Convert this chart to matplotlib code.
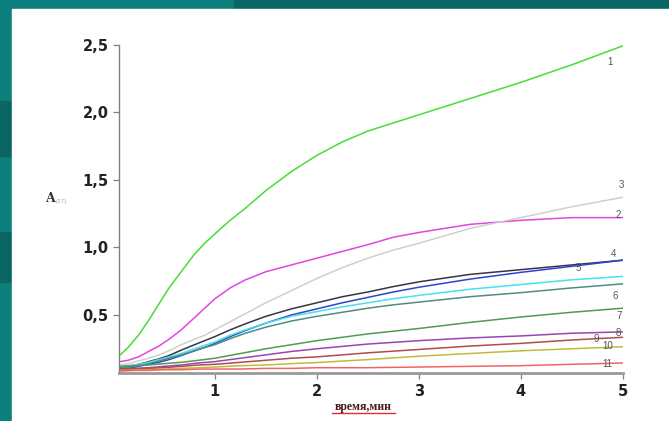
"""Absorbance kinetics, curves 1-11, recreated from a slide."""

import matplotlib

matplotlib.use("Agg")

import matplotlib.pyplot as plt
from matplotlib.lines import Line2D
from matplotlib.patches import Rectangle

# time, min (fine grid for the fast curves 1-6)
time_fast = [0.07, 0.15, 0.25, 0.35, 0.45, 0.55, 0.67, 0.8, 0.9, 1.0, 1.15,
             1.3, 1.5, 1.75, 2.0, 2.25, 2.5, 2.75, 3.0, 3.5, 4.0, 4.5, 5.0]

curve_1 = [0.205, 0.26, 0.35, 0.46, 0.58, 0.70, 0.82, 0.95, 1.03, 1.10, 1.20,
           1.29, 1.42, 1.56, 1.68, 1.78, 1.86, 1.92, 1.98, 2.10, 2.22, 2.35, 2.49]
curve_2 = [0.155, 0.165, 0.19, 0.23, 0.27, 0.32, 0.39, 0.48, 0.55, 0.62, 0.70,
           0.76, 0.82, 0.87, 0.92, 0.97, 1.02, 1.075, 1.11, 1.17, 1.20, 1.22, 1.22]
curve_3 = [0.13, 0.14, 0.16, 0.18, 0.205, 0.235, 0.28, 0.32, 0.35, 0.39, 0.45,
           0.51, 0.59, 0.68, 0.77, 0.85, 0.92, 0.98, 1.03, 1.14, 1.22, 1.30, 1.37]
curve_4 = [0.11, 0.12, 0.135, 0.155, 0.175, 0.20, 0.24, 0.28, 0.31, 0.34, 0.39,
           0.435, 0.49, 0.545, 0.59, 0.635, 0.67, 0.71, 0.745, 0.80, 0.835, 0.87, 0.905]
curve_5 = [0.10, 0.105, 0.12, 0.135, 0.15, 0.17, 0.20, 0.235, 0.26, 0.29, 0.34,
           0.385, 0.44, 0.50, 0.545, 0.59, 0.63, 0.67, 0.705, 0.765, 0.815, 0.86, 0.905]
curve_5b = [0.12, 0.125, 0.135, 0.15, 0.17, 0.19, 0.215, 0.25, 0.275, 0.30, 0.35,
            0.39, 0.44, 0.49, 0.525, 0.56, 0.59, 0.62, 0.645, 0.69, 0.725, 0.76, 0.785]
curve_6 = [0.11, 0.115, 0.125, 0.14, 0.16, 0.18, 0.205, 0.235, 0.26, 0.28, 0.325,
           0.365, 0.41, 0.455, 0.49, 0.52, 0.55, 0.575, 0.595, 0.635, 0.665, 0.70, 0.73]

# coarser grid for the slow curves 7-11
time_slow = [0.07, 0.2, 0.35, 0.5, 0.67, 0.84, 1.0, 1.25, 1.5, 1.75,
             2.0, 2.5, 3.0, 3.5, 4.0, 4.5, 5.0]

curve_7 = [0.12, 0.125, 0.13, 0.14, 0.15, 0.165, 0.18, 0.215, 0.25, 0.28,
           0.31, 0.36, 0.40, 0.445, 0.485, 0.52, 0.55]
curve_8 = [0.10, 0.105, 0.11, 0.12, 0.13, 0.145, 0.155, 0.18, 0.205, 0.23,
           0.25, 0.285, 0.31, 0.33, 0.345, 0.365, 0.375]
curve_9 = [0.10, 0.10, 0.105, 0.11, 0.12, 0.13, 0.135, 0.15, 0.165, 0.18,
           0.19, 0.22, 0.245, 0.27, 0.29, 0.315, 0.335]
curve_10 = [0.09, 0.09, 0.095, 0.10, 0.105, 0.11, 0.115, 0.125, 0.13, 0.14,
            0.148, 0.17, 0.195, 0.215, 0.235, 0.25, 0.265]
curve_11 = [0.085, 0.09, 0.09, 0.095, 0.095, 0.10, 0.10, 0.10, 0.105, 0.105,
            0.11, 0.11, 0.115, 0.12, 0.125, 0.135, 0.145]

curves = [
    (time_fast, curve_1, "#45de35"),
    (time_fast, curve_2, "#e245e2"),
    (time_fast, curve_3, "#cfcfcf"),
    (time_fast, curve_4, "#35354a"),
    (time_fast, curve_5, "#3043cf"),
    (time_fast, curve_5b, "#45e3ea"),
    (time_fast, curve_6, "#4f8c84"),
    (time_slow, curve_7, "#4f9c4f"),
    (time_slow, curve_8, "#9a45b2"),
    (time_slow, curve_9, "#b04c4c"),
    (time_slow, curve_10, "#bcbc3a"),
    (time_slow, curve_11, "#f26464"),
]

# curve number labels
label_text = ["1", "3", "2", "4", "5", "6", "7", "8", "9", "10", "11"]
label_x = [4.88, 4.99, 4.96, 4.91, 4.56, 4.93, 4.97, 4.96, 4.74, 4.85, 4.85]
label_y = [2.37, 1.46, 1.24, 0.95, 0.85, 0.64, 0.49, 0.37, 0.32, 0.27, 0.14]

x_ticks = [1, 2, 3, 4, 5]
y_ticks = [0.5, 1.0, 1.5, 2.0, 2.5]
y_tick_labels = ["0,5", "1,0", "1,5", "2,0", "2,5"]

teal = "#0d807d"

fig = plt.figure(figsize=(6.69, 4.21), dpi=100)
fig.patch.set_facecolor(teal)
# slide frame: darker top band and a few darker patches on the left edge
fig.add_artist(Rectangle((0.35, 0.978), 0.65, 0.022, transform=fig.transFigure,
                         color="#0b6565", zorder=0))
fig.add_artist(Rectangle((0, 0.63), 0.018, 0.13, transform=fig.transFigure,
                         color="#0b6663", zorder=0))
fig.add_artist(Rectangle((0, 0.33), 0.018, 0.12, transform=fig.transFigure,
                         color="#0b6663", zorder=0))
fig.add_artist(Rectangle((12 / 669, 0), 1, 1 - 9 / 421, transform=fig.transFigure,
                         color="white", zorder=0))

ax = fig.add_axes([0.1784, 0.1147, 0.7524, 0.7795])
ax.set_facecolor("none")

for t, values, color in curves:
    ax.plot(t, values, color=color, lw=1.1)

for text, x, y in zip(label_text, label_x, label_y):
    ax.text(x, y, text, fontsize=7, color="#555555", ha="center", va="center",
            family="Liberation Sans")

ax.set_xlim(0.063, 5.0)
ax.set_ylim(0.073, 2.5)
ax.set_xticks(x_ticks)
ax.set_xticklabels([str(t) for t in x_ticks])
ax.set_yticks(y_ticks)
ax.set_yticklabels(y_tick_labels)

for side in ("top", "right"):
    ax.spines[side].set_visible(False)
ax.spines["left"].set_color("#808080")
ax.spines["left"].set_linewidth(1.0)
ax.spines["bottom"].set_color("#999999")
ax.spines["bottom"].set_linewidth(2.0)
ax.tick_params(axis="both", direction="out", length=4.3, width=0.9,
               color="#808080", pad=3.5)
for lab in ax.get_xticklabels() + ax.get_yticklabels():
    lab.set_fontfamily("DejaVu Sans")
    lab.set_fontweight("bold")
    lab.set_fontsize(10.5)
    lab.set_color("#222222")

# y axis label: A with a small subscript
fig.text(45 / 669, 1 - 198 / 421, "A", fontsize=9, fontweight="bold",
         family="DejaVu Serif", color="#333333", va="center")
fig.text(56 / 669, 1 - 201 / 421, "(17)", fontsize=4.5, color="#aaaaaa",
         va="center", family="Liberation Sans")

# x axis label, with the red spell-check underline of the slide
fig.text(363 / 669, 1 - 407 / 421, "время,мин", fontsize=8.5, fontweight="bold",
         family="Liberation Serif", color="#4a1a1a", ha="center", va="center")
fig.add_artist(Line2D([332 / 669, 395 / 669], [1 - 413 / 421, 1 - 413 / 421],
                      transform=fig.transFigure, color="#e03030", lw=1.0))

fig.savefig("out.png", dpi=100, facecolor=fig.get_facecolor())
plt.close(fig)
